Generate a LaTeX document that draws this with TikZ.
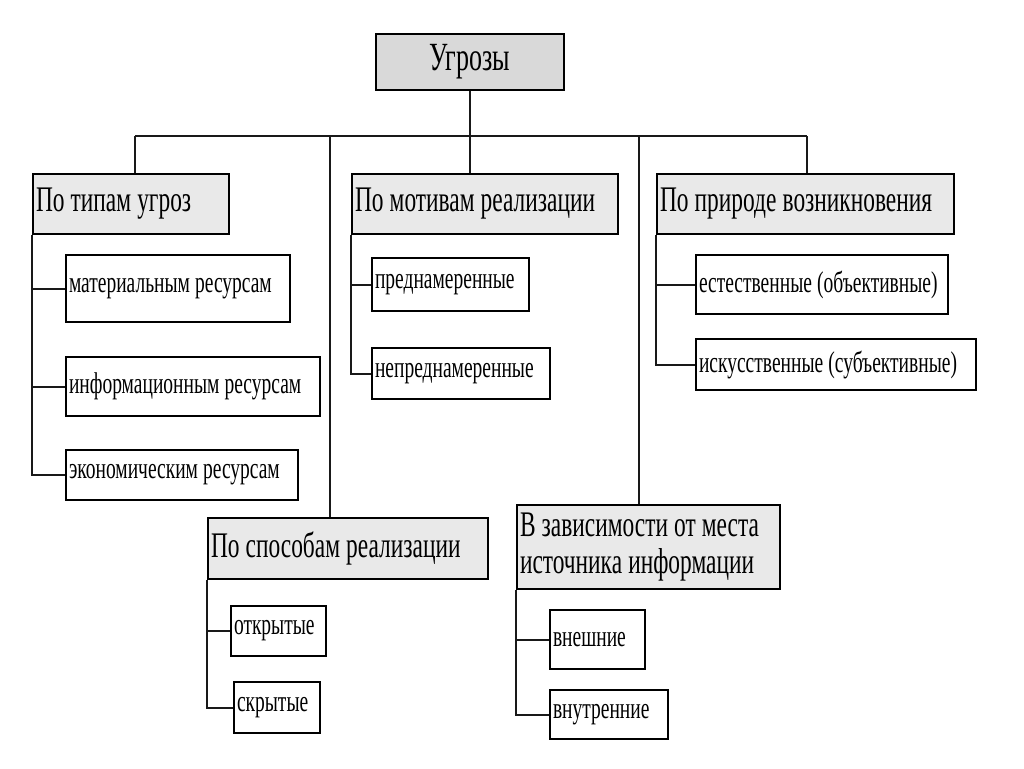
\documentclass[tikz,border=0pt]{standalone}
\usepackage{fontspec}
\setmainfont{Liberation Serif}[FakeStretch=0.65]
\newcommand{\tsp}{\spaceskip=0.17em\relax}
\definecolor{tc}{RGB}{217,217,217}
\definecolor{gc}{RGB}{233,233,233}
\tikzset{tp/.style={draw,fill=tc,line width=2pt,minimum width=188pt,minimum height=56pt,inner sep=0pt,font=\fontsize{40}{44}\selectfont},
 gr/.style={draw,fill=gc,line width=2pt,anchor=north west,align=left,inner xsep=3pt,inner ysep=0pt,font=\fontsize{36}{37}\selectfont,execute at begin node=\tsp},
 lf/.style={gr,fill=white,font=\fontsize{30}{32}\selectfont},
 wire/.style={line width=2pt,black!90}}
\begin{document}
\begin{tikzpicture}[x=1pt,y=-1pt]
\useasboundingbox (0,0) rectangle (1024,768);
\node[tp] (u) at (470,62) {Угрозы};
\node[gr,text width=190pt,minimum height=60pt] (g1) at (32,173) {По типам угроз};
\node[gr,text width=260pt,minimum height=60pt] (g2) at (351,173) {По мотивам реализации};
\node[gr,text width=291pt,minimum height=60pt] (g3) at (656,173) {По природе возникновения};
\node[gr,text width=274pt,minimum height=61pt] (g4) at (207,517) {По способам реализации};
\node[gr,text width=257pt,minimum height=84pt] (g5) at (516,504) {В зависимости от места\\источника информации};
\node[lf,text width=218pt,minimum height=67pt] (m1) at (65,254) {материальным ресурсам};
\node[lf,text width=248pt,minimum height=59pt] (m2) at (65,356) {информационным ресурсам};
\node[lf,text width=226pt,minimum height=50pt] (m3) at (65,449) {экономическим ресурсам};
\node[lf,text width=151pt,minimum height=53pt] (n1) at (371,257) {преднамеренные};
\node[lf,text width=172pt,minimum height=51pt] (n2) at (371,347) {непреднамеренные};
\node[lf,text width=246pt,minimum height=59pt] (k1) at (695,254) {естественные (объективные)};
\node[lf,text width=274pt,minimum height=51pt] (k2) at (695,338) {искусственные (субъективные)};
\node[lf,text width=89pt,minimum height=50pt] (d1) at (230,605) {открытые};
\node[lf,text width=80pt,minimum height=51pt] (d2) at (233,681) {скрытые};
\node[lf,text width=89pt,minimum height=59pt] (e1) at (549,609) {внешние};
\node[lf,text width=112pt,minimum height=49pt] (e2) at (549,689) {внутренние};
% шина
\coordinate (s1) at (135,136);\coordinate (s2) at (330,136);\coordinate (s3) at (639,136);\coordinate (s4) at (807,136);
\draw[wire] (s1)--(s4);\draw[wire] (u.south)--(u.south|-g2.north);
\foreach \s/\g in {s1/g1,s2/g4,s3/g5,s4/g3}{\draw[wire] (\s)--(\s|-\g.north);}
\foreach \g/\n in {g1/m1,g1/m2,g1/m3,g2/n1,g2/n2,g3/k1,g3/k2,g4/d1,g4/d2,g5/e1,g5/e2}{\draw[wire] (\g.south west)|-(\n.west);}
\end{tikzpicture}
\end{document}
